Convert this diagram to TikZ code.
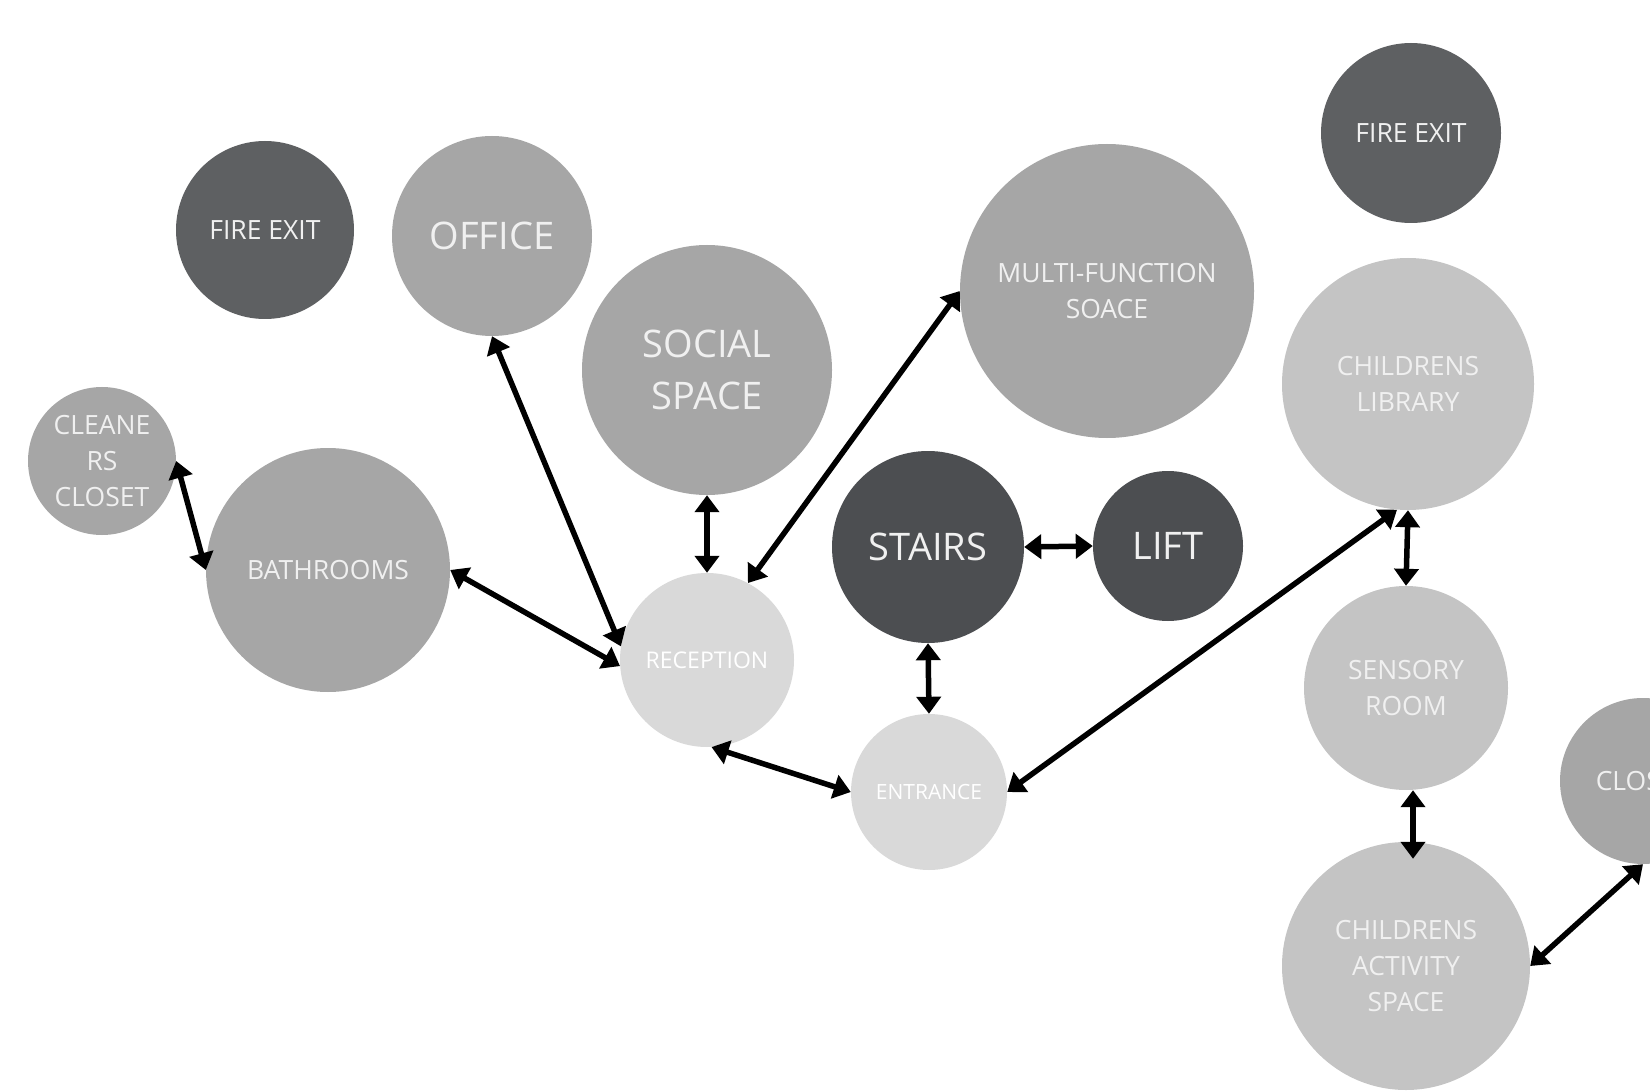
\documentclass[tikz,border=0pt]{standalone}
\usepackage{fontspec}
\setmainfont{Open Sans}
\usetikzlibrary{arrows.meta}
\definecolor{firec}{HTML}{5E6062}
\definecolor{darkc}{HTML}{4C4E51}
\definecolor{midc}{HTML}{A6A6A6}
\definecolor{lightc}{HTML}{C4C4C4}
\definecolor{palec}{HTML}{D9D9D9}
\definecolor{txc}{HTML}{F0F0F0}
\tikzset{
  room/.style={circle, inner sep=0pt, draw=none, minimum size=#1, text=txc, align=center},
  bigtxt/.style={font=\fontsize{38}{52}\selectfont},
  medtxt/.style={font=\fontsize{26.5}{36}\selectfont},
  smalltxt/.style={font=\fontsize{23}{30}\selectfont},
  tinytxt/.style={font=\fontsize{21}{28}\selectfont},
  link/.style={line width=5.5pt, draw=black,
    {Triangle[length=17pt,width=24pt]}-{Triangle[length=17pt,width=24pt]}},
}
\begin{document}
\begin{tikzpicture}[x=1pt,y=-1pt]
\useasboundingbox (0,0) rectangle (1650,1091);
\clip (0,0) rectangle (1650,1091);
\fill[white] (0,0) rectangle (1650,1091);

% rooms
\node[room=178, fill=firec, medtxt] (fireL) at (265,230) {FIRE EXIT};
\node[room=200, fill=midc, bigtxt] (office) at (492,236) {OFFICE};
\node[room=250, fill=midc, bigtxt] (social) at (707,370) {SOCIAL\\SPACE};
\node[room=294, fill=midc, medtxt] (multi) at (1107,291) {MULTI-FUNCTION\\SOACE};
\node[room=180, fill=firec, medtxt] (fireR) at (1411,133) {FIRE EXIT};
\node[room=252, fill=lightc, medtxt] (library) at (1408,384) {CHILDRENS\\LIBRARY};
\node[room=148, fill=midc, medtxt] (cleaners) at (102,461) {CLEANE\\RS\\CLOSET};
\node[room=244, fill=midc, medtxt] (bathrooms) at (328,570) {BATHROOMS};
\node[room=174, fill=palec, smalltxt, text=white] (reception) at (707,660) {RECEPTION};
\node[room=192, fill=darkc, bigtxt] (stairs) at (928,547) {STAIRS};
\node[room=150, fill=darkc, bigtxt] (lift) at (1168,546) {LIFT};
\node[room=156, fill=palec, tinytxt, text=white] (entrance) at (929,792) {ENTRANCE};
\node[room=204, fill=lightc, medtxt] (sensory) at (1406,688) {SENSORY\\ROOM};
\node[room=248, fill=lightc, medtxt] (activity) at (1406,966) {CHILDRENS\\ACTIVITY\\SPACE};
\node[room=166, fill=midc, medtxt] (closet) at (1643,781) {CLOSET};

% connectors
\draw[link] (cleaners.east) -- (bathrooms.west);
\draw[link] (office.south) -- (reception.171);
\draw[link] (bathrooms.east) -- (reception.184);
\draw[link] (social.south) -- (reception.north);
\draw[link] (multi.west) -- (reception.62);
\draw[link] (stairs.east) -- (lift.west);
\draw[link] (stairs.south) -- (entrance.north);
\draw[link] (reception.-87) -- (entrance.west);
\draw[link] (entrance.east) -- (library.265);
\draw[link] (library.south) -- (sensory.north);
\draw[link] ([xshift=7pt]sensory.south) -- ([xshift=7pt,yshift=-17pt]activity.north);
\draw[link] (activity.east) -- (closet.south);
\end{tikzpicture}
\end{document}
